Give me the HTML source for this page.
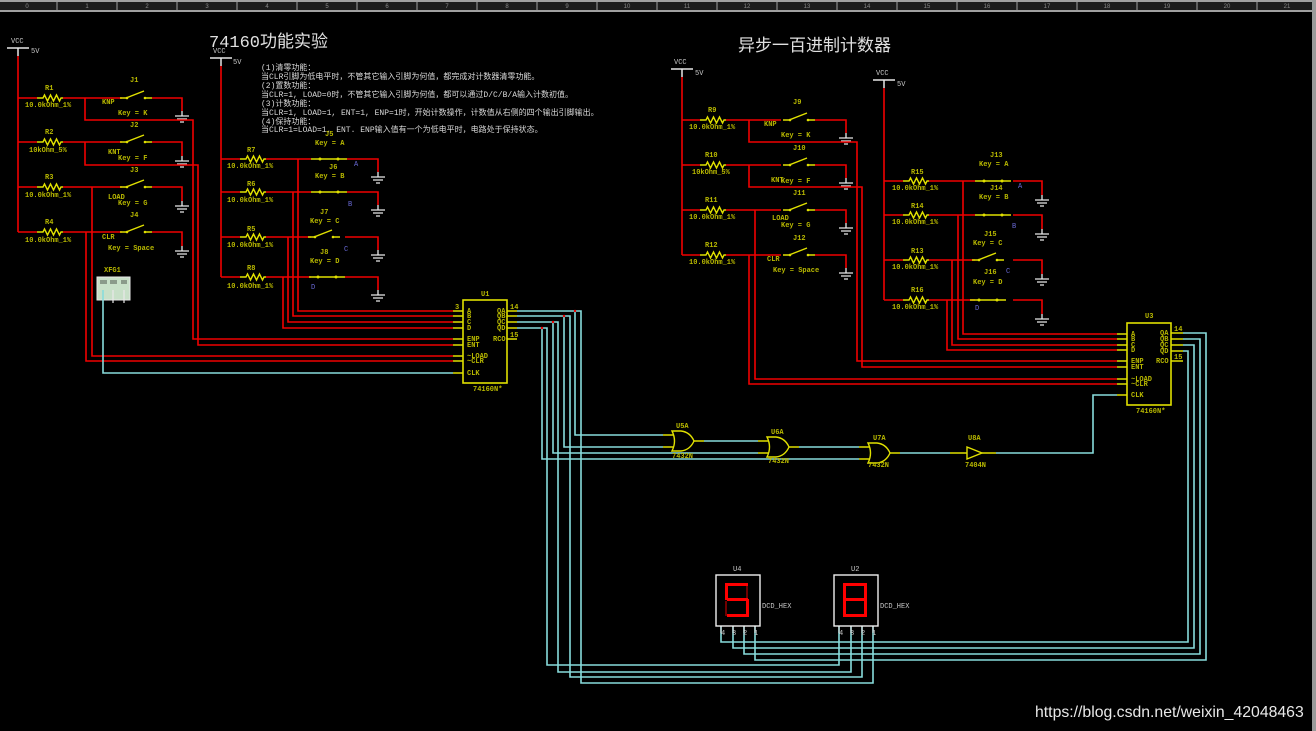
<!DOCTYPE html>
<html><head><meta charset="utf-8"><style>
html,body{margin:0;padding:0;background:#000;}
svg{display:block;}
.t{font-family:"Liberation Mono",monospace;font-size:7px;fill:#b8b800;font-weight:bold;}
.w{font-family:"Liberation Mono",monospace;font-size:7px;fill:#c8c8c8;}
.b{font-family:"Liberation Mono",monospace;font-size:7px;fill:#6a6ad8;}
.cn{font-family:"Liberation Mono","Noto Sans CJK SC",monospace;font-size:8px;fill:#d8d8d8;}
.r{stroke:#f00000;stroke-width:1.6;fill:none;}
.c{stroke:#88dcdc;stroke-width:1.6;fill:none;}
.y{stroke:#e0e000;stroke-width:1.4;fill:none;}
</style></head><body>
<svg width="1316" height="731" viewBox="0 0 1316 731" xmlns="http://www.w3.org/2000/svg">
<defs>
<g id="res"><path d="M0 0H6l1.5-3 3 6 3-6 3 6 3-6 3 6 1.5-3H26" stroke="#e0e000" stroke-width="1.4" fill="none"/></g>
<g id="swo"><path d="M0 0H6L24-7M26 0H32" stroke="#e0e000" stroke-width="1.4" fill="none"/><circle cx="7" cy="0" r="1.3" fill="#e0e000"/><circle cx="25" cy="0" r="1.3" fill="#e0e000"/></g>
<g id="swc"><path d="M0 0H36" stroke="#e0e000" stroke-width="1.6" fill="none"/><circle cx="9" cy="0" r="1.5" fill="#e0e000"/><circle cx="27" cy="0" r="1.5" fill="#e0e000"/></g>
<g id="gnd"><path d="M0 0V5M-7 5H7M-5 8H5M-2 11H2" stroke="#e8e8e8" stroke-width="1.3" fill="none"/></g>
<g id="vcc"><path d="M-11 0H11M0 0V8" stroke="#e8e8e8" stroke-width="1.5" fill="none"/></g>
<g id="or"><path d="M-9 4H2M-9 16H2M22 10H32" stroke="#e0e000" stroke-width="1.4" fill="none"/><path d="M0 0H9Q18 1 22 10Q18 19 9 20H0Q5 10 0 0Z" stroke="#e0e000" stroke-width="1.4" fill="none"/></g>
</defs>
<rect width="1316" height="731" fill="#000"/>
<!-- ruler -->
<rect x="0" y="0" width="1316" height="12" fill="#1c1c1c"/>
<rect x="0" y="0" width="1316" height="2" fill="#a0a0a0"/>
<rect x="0" y="10" width="1316" height="2" fill="#a0a0a0"/>
<g stroke="#a0a0a0" stroke-width="1">
<path d="M57 2V10M117 2V10M177 2V10M237 2V10M297 2V10M357 2V10M417 2V10M477 2V10M537 2V10M597 2V10M657 2V10M717 2V10M777 2V10M837 2V10M897 2V10M957 2V10M1017 2V10M1077 2V10M1137 2V10M1197 2V10M1257 2V10"/>
</g>
<g font-family="Liberation Sans,sans-serif" font-size="6" fill="#888" text-anchor="middle">
<text x="27" y="8">0</text><text x="87" y="8">1</text><text x="147" y="8">2</text><text x="207" y="8">3</text><text x="267" y="8">4</text><text x="327" y="8">5</text><text x="387" y="8">6</text><text x="447" y="8">7</text><text x="507" y="8">8</text><text x="567" y="8">9</text><text x="627" y="8">10</text><text x="687" y="8">11</text><text x="747" y="8">12</text><text x="807" y="8">13</text><text x="867" y="8">14</text><text x="927" y="8">15</text><text x="987" y="8">16</text><text x="1047" y="8">17</text><text x="1107" y="8">18</text><text x="1167" y="8">19</text><text x="1227" y="8">20</text><text x="1287" y="8">21</text>
</g>
<rect x="1312" y="0" width="4" height="731" fill="#9a9a9a"/>

<!-- Titles -->
<text x="209" y="47" font-family="Liberation Mono,'Noto Sans CJK SC',monospace" font-size="17" fill="#e0e0e0">74160功能实验</text>
<text x="738" y="51" font-family="Liberation Sans,'Noto Sans CJK SC',sans-serif" font-size="17" fill="#e0e0e0">异步一百进制计数器</text>
<g class="cn">
<text x="261" y="70">(1)清零功能：</text>
<text x="261" y="79">当CLR引脚为低电平时，不管其它输入引脚为何值，都完成对计数器清零功能。</text>
<text x="261" y="88">(2)置数功能：</text>
<text x="261" y="97">当CLR=1, LOAD=0时，不管其它输入引脚为何值，都可以通过D/C/B/A输入计数初值。</text>
<text x="261" y="106">(3)计数功能：</text>
<text x="261" y="115">当CLR=1, LOAD=1, ENT=1, ENP=1时，开始计数操作，计数值从右侧的四个输出引脚输出。</text>
<text x="261" y="124">(4)保持功能：</text>
<text x="261" y="132">当CLR=1=LOAD=1, ENT. ENP输入值有一个为低电平时，电路处于保持状态。</text>
</g>

<!-- ===== Circuit 1 ===== -->
<use href="#vcc" x="18" y="48"/><text class="w" x="11" y="43">VCC</text><text class="w" x="31" y="53">5V</text>
<path class="r" d="M18 56V232"/>
<path class="r" d="M18 98H37M63 98H122M152 98H182V111M18 142H37M63 142H122M152 142H182V156M18 187H37M63 187H122M152 187H182V201M18 232H37M63 232H122M152 232H182V246"/>
<use href="#res" x="37" y="98"/><use href="#res" x="37" y="142"/><use href="#res" x="37" y="187"/><use href="#res" x="37" y="232"/>
<use href="#swo" x="120" y="98"/><use href="#swo" x="120" y="142"/><use href="#swo" x="120" y="187"/><use href="#swo" x="120" y="232"/>
<use href="#gnd" x="182" y="111"/><use href="#gnd" x="182" y="156"/><use href="#gnd" x="182" y="201"/><use href="#gnd" x="182" y="246"/>
<g class="t">
<text x="45" y="90">R1</text><text x="25" y="107">10.0kOhm_1%</text><text x="130" y="82">J1</text><text x="102" y="104">KNP</text><text x="118" y="115">Key = K</text>
<text x="45" y="134">R2</text><text x="29" y="152">10kOhm_5%</text><text x="130" y="127">J2</text><text x="108" y="154">KNT</text><text x="118" y="160">Key = F</text>
<text x="45" y="179">R3</text><text x="25" y="197">10.0kOhm_1%</text><text x="130" y="172">J3</text><text x="108" y="199">LOAD</text><text x="118" y="205">Key = G</text>
<text x="45" y="224">R4</text><text x="25" y="242">10.0kOhm_1%</text><text x="130" y="217">J4</text><text x="102" y="239">CLR</text><text x="108" y="250">Key = Space</text>
</g>
<path class="r" d="M85 98V120H193V339H453M85 142V165H198V345H453M92 187V356H453M86 232V361H453"/>
<!-- XFG1 -->
<text class="t" x="104" y="272" fill="#c8c8c8">XFG1</text>
<rect x="97" y="277" width="33" height="23" fill="#c8e0c8" stroke="#e8e8e8" stroke-width="1"/>
<rect x="100" y="280" width="7" height="4" fill="#8a9a8a"/><rect x="110" y="280" width="7" height="4" fill="#8a9a8a"/><rect x="121" y="280" width="6" height="4" fill="#8a9a8a"/>
<path d="M113 290V303M124 290V303" stroke="#e8e8e8" stroke-width="1.2"/>
<path class="c" d="M103 290V373H453"/>

<!-- ===== Circuit 2 ===== -->
<use href="#vcc" x="221" y="58"/><text class="w" x="213" y="53">VCC</text><text class="w" x="233" y="64">5V</text>
<path class="r" d="M221 66V277"/>
<path class="r" d="M221 159H240M266 159H311M347 159H378V172M221 192H240M266 192H311M347 192H378V205M221 237H240M266 237H311M345 237H378V250M221 277H240M266 277H311M345 277H378V290"/>
<use href="#res" x="240" y="159"/><use href="#res" x="240" y="192"/><use href="#res" x="240" y="237"/><use href="#res" x="240" y="277"/>
<use href="#swc" x="311" y="159"/><use href="#swc" x="311" y="192"/><use href="#swo" x="308" y="237"/><use href="#swc" x="309" y="277"/>
<use href="#gnd" x="378" y="172"/><use href="#gnd" x="378" y="205"/><use href="#gnd" x="378" y="250"/><use href="#gnd" x="378" y="290"/>
<g class="t">
<text x="247" y="152">R7</text><text x="227" y="168">10.0kOhm_1%</text><text x="325" y="136">J5</text><text x="315" y="145">Key = A</text><text x="329" y="169">J6</text><text x="315" y="178">Key = B</text>
<text x="247" y="186">R6</text><text x="227" y="202">10.0kOhm_1%</text><text x="320" y="214">J7</text><text x="310" y="223">Key = C</text>
<text x="247" y="231">R5</text><text x="227" y="247">10.0kOhm_1%</text><text x="320" y="254">J8</text><text x="310" y="263">Key = D</text>
<text x="247" y="270">R8</text><text x="227" y="288">10.0kOhm_1%</text>
</g>
<g class="b"><text x="354" y="166">A</text><text x="348" y="206">B</text><text x="344" y="251">C</text><text x="311" y="289">D</text></g>
<path class="r" d="M298 159V311H453M293 192V316H453M288 237V322H453M283 277V328H453"/>

<!-- U1 -->
<text class="t" x="481" y="296">U1</text>
<rect x="463" y="300" width="44" height="83" fill="none" stroke="#e0e000" stroke-width="1.6"/>
<path class="y" d="M453 311H463M453 316H463M453 322H463M453 328H463M453 339H463M453 345H463M453 356H463M453 361H463M453 373H463M507 311H517M507 316H517M507 322H517M507 328H517M507 339H517"/>
<g class="t" font-size="6">
<text x="467" y="313">A</text><text x="467" y="318">B</text><text x="467" y="324">C</text><text x="467" y="330">D</text>
<text x="467" y="341">ENP</text><text x="467" y="347">ENT</text><text x="467" y="358">~LOAD</text><text x="467" y="363">~CLR</text><text x="467" y="375">CLK</text>
<text x="497" y="313">QA</text><text x="497" y="318">QB</text><text x="497" y="324">QC</text><text x="497" y="330">QD</text><text x="493" y="341">RCO</text>
<text x="455" y="309">3</text><text x="510" y="309">14</text><text x="510" y="337">15</text>
<text x="473" y="391">74160N*</text>
</g>
<!-- U1 outputs -->
<path class="c" d="M517 311H581V683H873V626M575 311V435H663M517 316H570V677H862V626M564 316V447H663M517 322H558V672H851V626M553 322V453H758M517 328H547V665H839V626M542 328V459H859"/>
<g fill="#e80000"><circle cx="575" cy="311" r="1.2"/><circle cx="564" cy="316" r="1.2"/><circle cx="553" cy="322" r="1.2"/><circle cx="542" cy="328" r="1.2"/></g>

<!-- gates -->
<use href="#or" x="672" y="431"/><use href="#or" x="767" y="437"/><use href="#or" x="868" y="443"/>
<path class="c" d="M704 441H758M799 447H859M900 453H950M996 453H1093V395H1117"/>
<path class="y" d="M950 453H967M982 453H996"/><path d="M967 447L982 453L967 459Z" stroke="#e0e000" stroke-width="1.4" fill="none"/>
<g class="t" font-size="6">
<text x="676" y="428">U5A</text><text x="672" y="458">7432N</text>
<text x="771" y="434">U6A</text><text x="768" y="463">7432N</text>
<text x="873" y="440">U7A</text><text x="868" y="467">7432N</text>
<text x="968" y="440">U8A</text><text x="965" y="467">7404N</text>
</g>

<!-- ===== Circuit 3 ===== -->
<use href="#vcc" x="682" y="69"/><text class="w" x="674" y="64">VCC</text><text class="w" x="695" y="75">5V</text>
<path class="r" d="M682 77V255"/>
<path class="r" d="M682 120H700M726 120H781M815 120H846V133M682 165H700M726 165H781M815 165H846V178M682 210H700M726 210H781M815 210H846V223M682 255H700M726 255H781M815 255H846V268"/>
<use href="#res" x="700" y="120"/><use href="#res" x="700" y="165"/><use href="#res" x="700" y="210"/><use href="#res" x="700" y="255"/>
<use href="#swo" x="783" y="120"/><use href="#swo" x="783" y="165"/><use href="#swo" x="783" y="210"/><use href="#swo" x="783" y="255"/>
<use href="#gnd" x="846" y="133"/><use href="#gnd" x="846" y="178"/><use href="#gnd" x="846" y="223"/><use href="#gnd" x="846" y="268"/>
<g class="t">
<text x="708" y="112">R9</text><text x="689" y="129">10.0kOhm_1%</text><text x="793" y="104">J9</text><text x="764" y="126">KNP</text><text x="781" y="137">Key = K</text>
<text x="705" y="157">R10</text><text x="692" y="174">10kOhm_5%</text><text x="793" y="150">J10</text><text x="771" y="182">KNT</text><text x="781" y="183">Key = F</text>
<text x="705" y="202">R11</text><text x="689" y="219">10.0kOhm_1%</text><text x="793" y="195">J11</text><text x="772" y="220">LOAD</text><text x="781" y="227">Key = G</text>
<text x="705" y="247">R12</text><text x="689" y="264">10.0kOhm_1%</text><text x="793" y="240">J12</text><text x="767" y="261">CLR</text><text x="773" y="272">Key = Space</text>
</g>
<path class="r" d="M749 120V142H857V361H1117M749 165V187H862V367H1117M755 210V379H1117M749 255V384H1117"/>

<!-- ===== Circuit 4 ===== -->
<use href="#vcc" x="884" y="80"/><text class="w" x="876" y="75">VCC</text><text class="w" x="897" y="86">5V</text>
<path class="r" d="M884 88V300"/>
<path class="r" d="M884 181H903M929 181H975M1013 181H1042V195M884 215H903M929 215H975M1013 215H1042V229M884 260H903M929 260H975M1013 260H1042V274M884 300H903M929 300H975M1013 300H1042V314"/>
<use href="#res" x="903" y="181"/><use href="#res" x="903" y="215"/><use href="#res" x="903" y="260"/><use href="#res" x="903" y="300"/>
<use href="#swc" x="975" y="181"/><use href="#swc" x="975" y="215"/><use href="#swo" x="972" y="260"/><use href="#swc" x="970" y="300"/>
<use href="#gnd" x="1042" y="195"/><use href="#gnd" x="1042" y="229"/><use href="#gnd" x="1042" y="274"/><use href="#gnd" x="1042" y="314"/>
<g class="t">
<text x="911" y="174">R15</text><text x="892" y="190">10.0kOhm_1%</text><text x="990" y="157">J13</text><text x="979" y="166">Key = A</text><text x="990" y="190">J14</text><text x="979" y="199">Key = B</text>
<text x="911" y="208">R14</text><text x="892" y="224">10.0kOhm_1%</text><text x="984" y="236">J15</text><text x="973" y="245">Key = C</text>
<text x="911" y="253">R13</text><text x="892" y="269">10.0kOhm_1%</text><text x="984" y="274">J16</text><text x="973" y="284">Key = D</text>
<text x="911" y="292">R16</text><text x="892" y="309">10.0kOhm_1%</text>
</g>
<g class="b"><text x="1018" y="188">A</text><text x="1012" y="228">B</text><text x="1006" y="273">C</text><text x="975" y="310">D</text></g>
<path class="r" d="M963 181V334H1117M958 215V339H1117M952 260V345H1117M947 300V350H1117"/>

<!-- U3 -->
<text class="t" x="1145" y="318">U3</text>
<rect x="1127" y="323" width="44" height="82" fill="none" stroke="#e0e000" stroke-width="1.6"/>
<path class="y" d="M1117 334H1127M1117 339H1127M1117 345H1127M1117 350H1127M1117 361H1127M1117 367H1127M1117 379H1127M1117 384H1127M1117 395H1127M1171 333H1183M1171 339H1183M1171 345H1183M1171 351H1183M1171 361H1183"/>
<g class="t" font-size="6">
<text x="1131" y="336">A</text><text x="1131" y="341">B</text><text x="1131" y="347">C</text><text x="1131" y="352">D</text>
<text x="1131" y="363">ENP</text><text x="1131" y="369">ENT</text><text x="1131" y="381">~LOAD</text><text x="1131" y="386">~CLR</text><text x="1131" y="397">CLK</text>
<text x="1160" y="335">QA</text><text x="1160" y="341">QB</text><text x="1160" y="347">QC</text><text x="1160" y="353">QD</text><text x="1156" y="363">RCO</text>
<text x="1174" y="331">14</text><text x="1174" y="359">15</text>
<text x="1136" y="413">74160N*</text>
</g>
<path class="c" d="M1183 333H1206V660H755V626M1183 339H1200V654H744V626M1183 345H1194V648H733V626M1183 351H1188V642H721V626"/>

<!-- displays -->
<text class="w" x="733" y="571">U4</text><text class="w" x="851" y="571">U2</text>
<rect x="716" y="575" width="44" height="51" fill="#000" stroke="#f0f0f0" stroke-width="1.4"/>
<rect x="834" y="575" width="44" height="51" fill="#000" stroke="#f0f0f0" stroke-width="1.4"/>
<text class="w" x="762" y="608">DCD_HEX</text><text class="w" x="880" y="608">DCD_HEX</text>
<g class="w" font-size="6"><text x="721" y="635">4</text><text x="732" y="635">3</text><text x="743" y="635">2</text><text x="754" y="635">1</text><text x="839" y="635">4</text><text x="850" y="635">3</text><text x="861" y="635">2</text><text x="872" y="635">1</text></g>
<!-- U4 digit -->
<g fill="#ff0000">
<rect x="727" y="583" width="21" height="3"/><rect x="727" y="598" width="21" height="3"/><rect x="727" y="614" width="21" height="3"/>
<rect x="746" y="599" width="3" height="18"/><rect x="725" y="583" width="3" height="17"/>
</g>
<g fill="#700000"><rect x="725" y="601" width="2" height="15"/><rect x="746" y="586" width="2" height="12"/></g>
<!-- U2 digit 8 -->
<g fill="#ff0000">
<rect x="845" y="583" width="21" height="3"/><rect x="845" y="598" width="21" height="3"/><rect x="845" y="614" width="21" height="3"/>
<rect x="843" y="583" width="3" height="17"/><rect x="864" y="583" width="3" height="17"/><rect x="843" y="599" width="3" height="18"/><rect x="864" y="599" width="3" height="18"/>
</g>
<path d="M721 626V633M733 626V633M744 626V633M755 626V633M839 626V633M851 626V633M862 626V633M873 626V633" stroke="#f0f0f0" stroke-width="1"/>

<text x="1035" y="717" font-family="Liberation Sans,sans-serif" font-size="15.8" fill="#e8e8e8">https://blog.csdn.net/weixin_42048463</text>
</svg>
</body></html>
